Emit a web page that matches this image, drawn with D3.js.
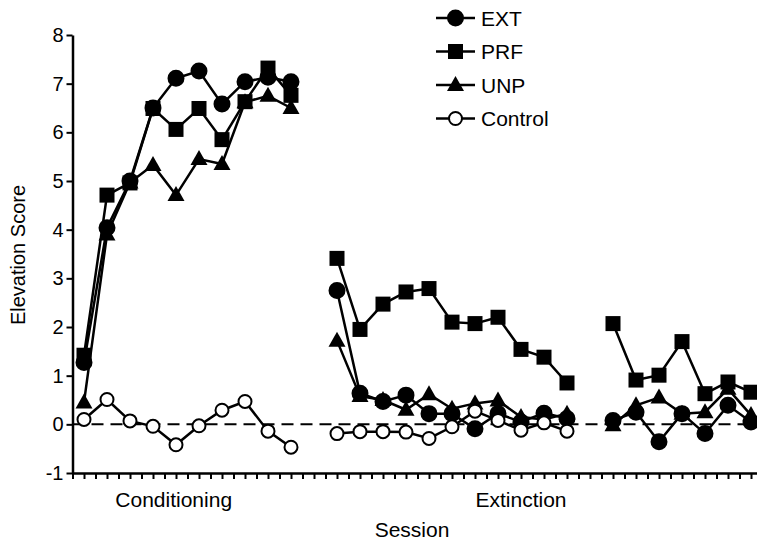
<!DOCTYPE html>
<meta charset="utf-8">
<script src="https://d3js.org/d3.v7.min.js"></script>
<style>
  body { margin: 0; background: #fff; }
  text { font-family: "Liberation Sans", Arial, sans-serif; }
</style>
<div id="chart"></div>
<script>
  // sessions per phase (a gap of one session between phases)
  const condSessions = [1, 2, 3, 4, 5, 6, 7, 8, 9, 10];
  const extSessions = [12, 13, 14, 15, 16, 17, 18, 19, 20, 21, 22];
  const testSessions = [24, 25, 26, 27, 28, 29, 30];

  // elevation scores
  const extCond = [1.27, 4.04, 5.0, 6.5, 7.11, 7.26, 6.58, 7.04, 7.13, 7.04];
  const prfCond = [1.42, 4.71, 4.96, 6.49, 6.06, 6.49, 5.85, 6.63, 7.32, 6.76];
  const unpCond = [0.45, 3.9, 4.97, 5.33, 4.71, 5.45, 5.35, 6.62, 6.75, 6.5];
  const ctlCond = [0.10, 0.51, 0.07, -0.04, -0.42, -0.03, 0.29, 0.47, -0.14, -0.47];

  const extExt = [2.75, 0.64, 0.47, 0.60, 0.22, 0.22, -0.09, 0.22, 0.05, 0.23, 0.12];
  const prfExt = [3.41, 1.95, 2.47, 2.72, 2.79, 2.10, 2.07, 2.20, 1.54, 1.38, 0.85];
  const unpExt = [1.72, 0.58, 0.50, 0.30, 0.62, 0.32, 0.43, 0.49, 0.15, 0.10, 0.22];
  const ctlExt = [-0.19, -0.15, -0.15, -0.16, -0.29, -0.05, 0.27, 0.08, -0.12, 0.03, -0.14];

  const extTest = [0.08, 0.25, -0.36, 0.22, -0.19, 0.39, 0.05];
  const prfTest = [2.07, 0.91, 1.01, 1.70, 0.63, 0.87, 0.66];
  const unpTest = [-0.02, 0.39, 0.55, 0.22, 0.25, 0.73, 0.19];

  const yTicks = [-1, 0, 1, 2, 3, 4, 5, 6, 7, 8];
  const phaseLabels = [
    { name: "Conditioning", at: 4.9 },
    { name: "Extinction", at: 20.0 }
  ];

  const series = [
    { name: "EXT", shape: "circle", fill: "#000", phases: [[condSessions, extCond], [extSessions, extExt], [testSessions, extTest]] },
    { name: "UNP", shape: "triangle", fill: "#000", phases: [[condSessions, unpCond], [extSessions, unpExt], [testSessions, unpTest]] },
    { name: "PRF", shape: "square", fill: "#000", phases: [[condSessions, prfCond], [extSessions, prfExt], [testSessions, prfTest]] },
    { name: "Control", shape: "circle", fill: "#fff", phases: [[condSessions, ctlCond], [extSessions, ctlExt]] }
  ];
  const legendOrder = ["EXT", "PRF", "UNP", "Control"];

  const W = 757, H = 541;
  const svg = d3.select("#chart").append("svg")
    .attr("width", W)
    .attr("height", H);

  const x = d3.scaleLinear().domain([0.5, 30.5]).range([72.5, 762.5]);
  const y = d3.scaleLinear().domain([-1, 8]).range([473, 35]);

  // y axis
  const yAxis = svg.append("g")
    .attr("transform", `translate(${x(0.5)},0)`)
    .call(d3.axisLeft(y).tickValues(yTicks).tickSize(6).tickSizeOuter(0).tickFormat(d => String(d)));
  yAxis.select(".domain").attr("stroke-width", 2.5);
  yAxis.selectAll(".tick line").attr("stroke-width", 2);
  yAxis.selectAll("text").style("font-size", "20px").attr("x", -9).attr("fill", "#000");

  // x axis, ticks every half session
  const xAxis = svg.append("g")
    .attr("transform", `translate(0,${y(-1)})`)
    .call(d3.axisBottom(x).tickValues(d3.range(0.5, 30.51, 0.5)).tickSize(6).tickSizeOuter(0).tickFormat(""));
  xAxis.select(".domain").attr("stroke-width", 2.5);
  xAxis.selectAll(".tick line").attr("stroke-width", 2);

  // zero reference line
  svg.append("line")
    .attr("x1", x(0.5)).attr("x2", W)
    .attr("y1", y(0)).attr("y2", y(0))
    .attr("stroke", "#000")
    .attr("stroke-width", 2)
    .attr("stroke-dasharray", "12,7");

  const line = d3.line().x(d => x(d[0])).y(d => y(d[1]));

  function drawMarker(g, shape, fill, cx, cy) {
    if (shape === "circle") {
      g.append("circle")
        .attr("cx", cx).attr("cy", cy)
        .attr("r", fill === "#fff" ? 6.5 : 7.5)
        .attr("fill", fill)
        .attr("stroke", "#000")
        .attr("stroke-width", 2);
    } else if (shape === "square") {
      g.append("rect")
        .attr("x", cx - 7.5).attr("y", cy - 7.5)
        .attr("width", 15).attr("height", 15)
        .attr("fill", fill);
    } else {
      g.append("path")
        .attr("d", `M${cx},${cy - 9}L${cx + 8.5},${cy + 6}L${cx - 8.5},${cy + 6}Z`)
        .attr("fill", fill);
    }
  }

  // lines first, then markers
  series.forEach(s => {
    s.phases.forEach(([sess, vals]) => {
      svg.append("path")
        .datum(sess.map((d, i) => [d, vals[i]]))
        .attr("d", line)
        .attr("fill", "none")
        .attr("stroke", "#000")
        .attr("stroke-width", 2.5);
    });
  });
  series.forEach(s => {
    const g = svg.append("g");
    s.phases.forEach(([sess, vals]) => {
      sess.forEach((d, i) => drawMarker(g, s.shape, s.fill, x(d), y(vals[i])));
    });
  });

  // phase labels and axis titles
  svg.selectAll(".phase")
    .data(phaseLabels)
    .enter()
    .append("text")
    .attr("x", d => x(d.at))
    .attr("y", 507)
    .attr("text-anchor", "middle")
    .style("font-size", "21px")
    .text(d => d.name);

  svg.append("text")
    .attr("x", 412)
    .attr("y", 537)
    .attr("text-anchor", "middle")
    .style("font-size", "21px")
    .text("Session");

  svg.append("text")
    .attr("transform", "translate(25,255)rotate(-90)")
    .attr("text-anchor", "middle")
    .style("font-size", "20px")
    .text("Elevation Score");

  // legend
  const legend = svg.append("g").attr("transform", "translate(436,18)");
  legendOrder.forEach((name, i) => {
    const s = series.find(d => d.name === name);
    const row = legend.append("g").attr("transform", `translate(0,${i * 33.5})`);
    row.append("line")
      .attr("x1", 0).attr("x2", 39)
      .attr("stroke", "#000")
      .attr("stroke-width", 2.5);
    drawMarker(row, s.shape, s.fill, 19.5, 0);
    row.append("text")
      .attr("x", 45)
      .attr("y", 7.5)
      .style("font-size", "21px")
      .text(name);
  });
</script>
